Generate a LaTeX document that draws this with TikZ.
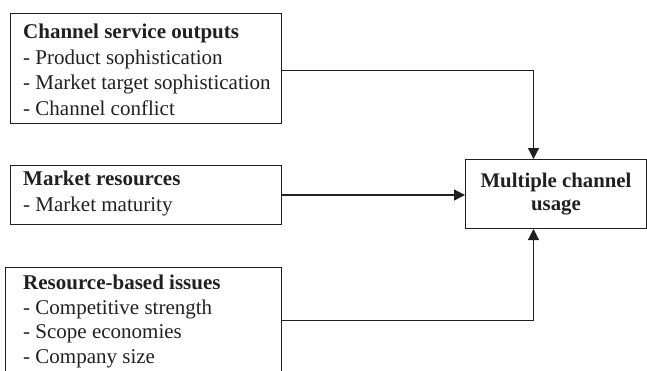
\documentclass[tikz,border=0pt]{standalone}
\usepackage{fontspec}
\setmainfont{Liberation Serif}
\usetikzlibrary{arrows.meta}
\definecolor{ink}{RGB}{35,31,32}
\begin{document}
\begin{tikzpicture}[x=1pt,y=-1pt,
  box/.style={draw=ink,line width=1pt,rectangle,inner sep=0pt,anchor=north west},
  txt/.style={align=left,inner sep=0pt,anchor=north west,
    font=\fontsize{21}{25.5}\selectfont,text=ink},
  tbox/.style={draw=ink,line width=1pt,rectangle,align=center,inner sep=0pt,
    font=\fontsize{20.8}{22.5}\selectfont\bfseries,text=ink,anchor=north west},
  conn/.style={draw=ink,line width=1.2pt,-{Triangle[length=11pt,width=11pt]}}]
\useasboundingbox (0,0) rectangle (647,370);
\node[box,minimum width=271pt,minimum height=110pt] (b1) at (10,13) {};
\node[txt] (t1) at (23,24)
  {\textbf{Channel service outputs}\\- Product sophistication\\- Market target sophistication\\- Channel conflict};
\node[box,minimum width=271pt,minimum height=59pt] (b2) at (10,165) {};
\node[txt] (t2) at (23,171)
  {\textbf{Market resources}\\- Market maturity};
\node[box,minimum width=276pt,minimum height=113pt] (b3) at (5,267) {};
\node[txt,font=\fontsize{21}{24.8}\selectfont] (t3) at (23,274.5)
  {\textbf{Resource-based issues}\\- Competitive strength\\- Scope economies\\- Company size};
\node[tbox,minimum width=181pt,minimum height=69pt] (t) at (465,159)
  {Multiple channel\\usage};
\draw[conn] ([yshift=-2pt]b1.east) -| ([xshift=-22.5pt]t.north);
\draw[conn] (b2.east) -- (b2.east -| t.west);
\draw[conn] ([yshift=3.5pt]b3.east) -| ([xshift=-22.5pt]t.south);
\end{tikzpicture}
\end{document}
